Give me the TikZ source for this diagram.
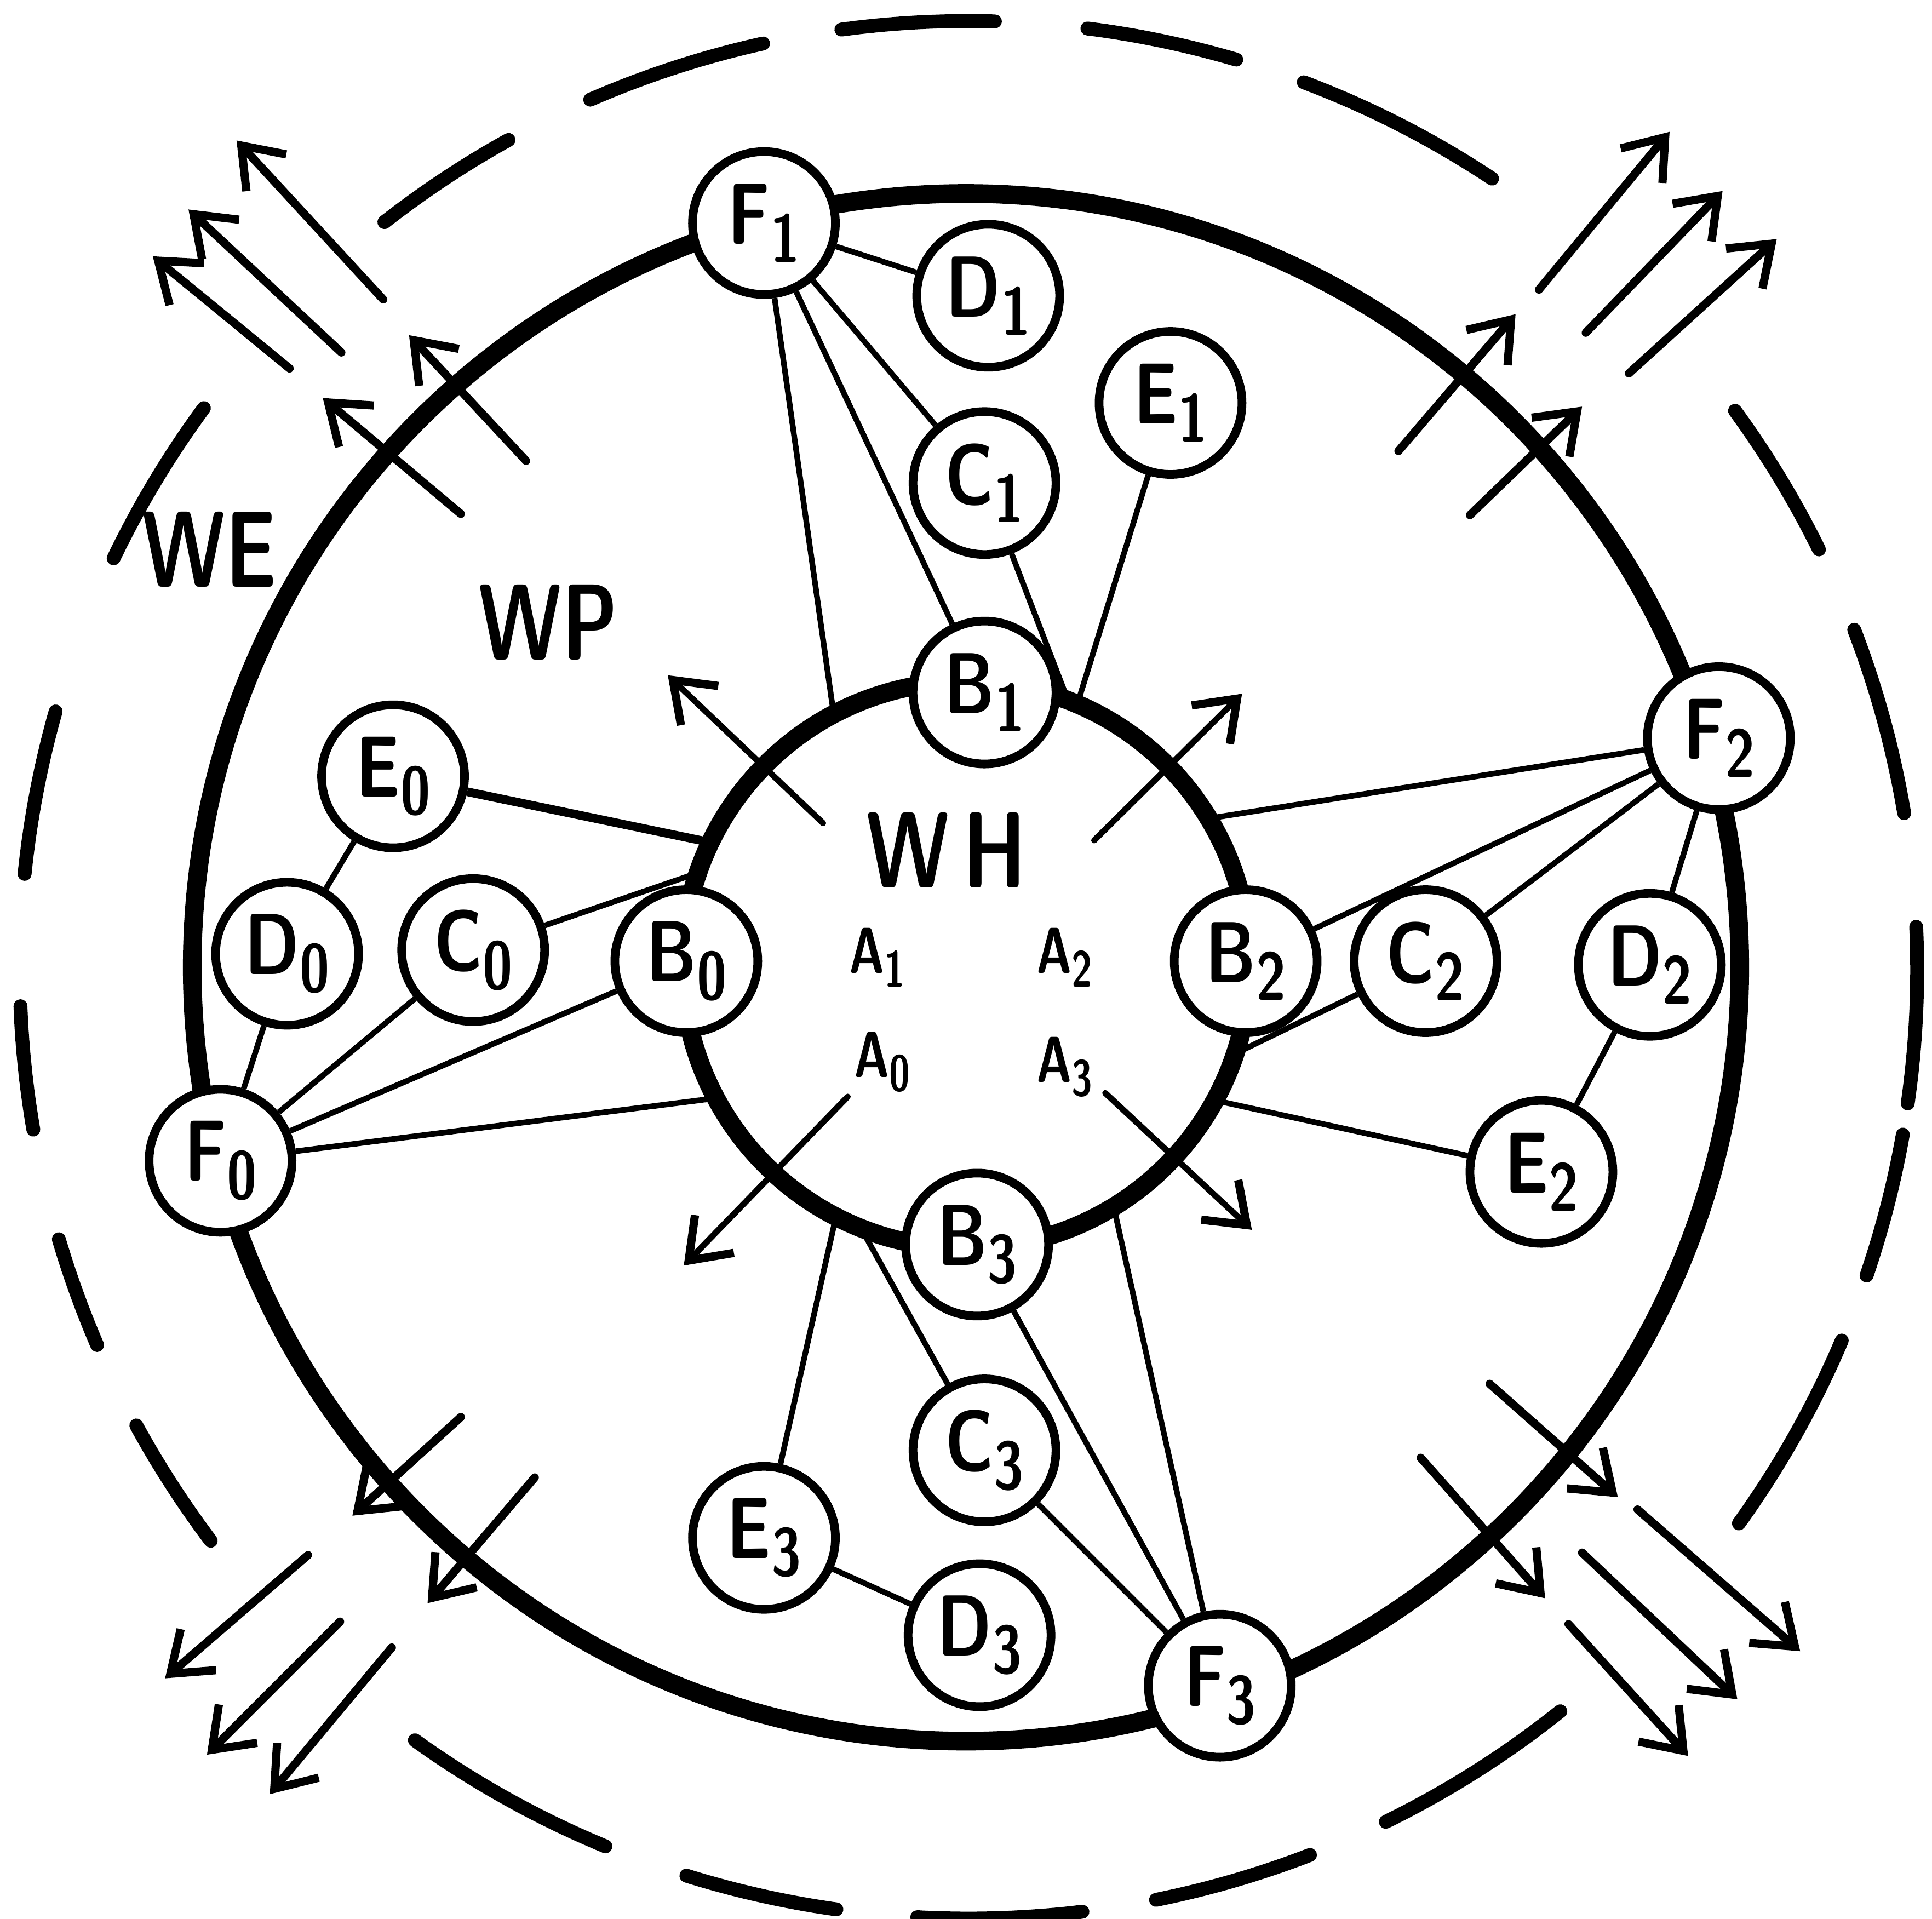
\documentclass[tikz,border=0pt]{standalone}
\usepackage{graphicx}
\usepackage{tikz}
\usetikzlibrary{arrows.meta}
\newcommand{\lowno}[1]{\raisebox{-0.45ex}{\scalebox{0.78}{#1}}}
\newcommand{\stnname}[2]{\scalebox{0.8}[1]{#1\lowno{#2}}}
\newcommand{\narrow}[1]{\scalebox{0.74}[1]{#1}}
\tikzset{
  wall/.style={line width=4.3pt},
  zone/.style={line width=3.2pt,line cap=round},
  stn/.style={circle,draw,fill=white,line width=2pt,minimum size=11.6mm,inner sep=0pt,
    font=\sffamily\bfseries\fontsize{20}{20}\selectfont},
  link/.style={line width=1.3pt},
  flow/.style={line width=1.9pt,line cap=round,
    -{Straight Barb[length=3mm,width=4.4mm,line width=1.9pt]}},
  zonelabel/.style={font=\sffamily\bfseries\fontsize{25}{25}\selectfont},
  alabel/.style={font=\sffamily\bfseries\fontsize{15}{15}\selectfont}
}
\begin{document}
\begin{tikzpicture}[x=0.1mm,y=-0.1mm,line join=round]
  \useasboundingbox (0,0) rectangle (1568,1557);
  \coordinate (E) at (786,787);
  \coordinate (P) at (784,785);
  \coordinate (H) at (784,783);
  % outer ring WE, dashed by hand
  \foreach \a/\b in {119/128, 102.5/113.5, 88.4/97.7, 73.6/82.8, 56.5/69.3,
      26.3/36.1, 9.5/21, -8.1/2.6, -18.8/-10, -35.7/-23, -63.9/-51.4,
      -78.6/-68.9, -93.1/-83.1, -107.3/-98, -125.7/-112.5, -151.3/-143,
      -163.5/-156.7, -177.8/-170.3, 164.2/174.2, 143.7/154.3}
    \draw[zone] (E) ++(\a:77mm) arc[start angle=\a,end angle=\b,radius=77mm];
  \draw[wall] (P) circle[radius=62.8mm];
  \draw[wall] (H) circle[radius=23mm];
  % outgoing arrows
  \foreach \x/\y/\u/\v in {311/243/192/114, 277/286/153/170, 235/299/124/208,
      427/374/332/272, 374/417/262/323,
      1249/235/1355/107, 1287/270/1398/155, 1322/303/1442/194,
      1135/366/1230/255, 1193/418/1284/330,
      374/1150/286/1230, 434/1199/347/1301, 250/1262/134/1362,
      276/1316/168/1424, 318/1337/219/1456,
      1209/1123/1313/1215, 1153/1183/1254/1297, 1329/1225/1461/1340,
      1284/1260/1410/1379, 1273/1318/1370/1425}
    \draw[flow] (\x,\y) -- (\u,\v);
  \foreach \x/\y/\u/\v in {668/668/542/548, 888/682/1008/563,
      688/890/555/1027, 897/887/1016/998}
    \draw[flow,line width=1.4pt] (\x,\y) -- (\u,\v);
  % labels
  \node[zonelabel] (we) at (170,446) {\narrow{WE}};
  \node[zonelabel] (wp) at (445,505) {\narrow{WP}};
  \node[zonelabel] (wh) at (768,690) {\narrow{W\,H}};
  \node[alabel] (a1) at (712,777) {\narrow{A\lowno{1}}};
  \node[alabel] (a2) at (864,777) {\narrow{A\lowno{2}}};
  \node[alabel] (a0) at (716,862) {\narrow{A\lowno{0}}};
  \node[alabel] (a3) at (864,866) {\narrow{A\lowno{3}}};
  % points on WH
  \path (H) ++(117.4:23.5mm) coordinate (h1f);
  \path (H) ++(70:23.5mm) coordinate (h1c);
  \path (H) ++(67:23.5mm) coordinate (h1e);
  \path (H) ++(154.7:23.5mm) coordinate (h0e);
  \path (H) ++(162:23.5mm) coordinate (h0c);
  \path (H) ++(207.6:23.5mm) coordinate (h0f);
  \path (H) ++(30.6:23.5mm) coordinate (h2f);
  \path (H) ++(-17.1:23.5mm) coordinate (h2c);
  \path (H) ++(-28.2:23.5mm) coordinate (h2e);
  \path (H) ++(-117:23.5mm) coordinate (h3e);
  \path (H) ++(-110.3:23.5mm) coordinate (h3c);
  \path (H) ++(-59:23.5mm) coordinate (h3f);
  % stations
  \node[stn] (F1) at (620,181) {\stnname{F}{1}};
  \node[stn] (D1) at (802,240) {\stnname{D}{1}};
  \node[stn] (E1) at (950,327) {\stnname{E}{1}};
  \node[stn] (C1) at (799,392) {\stnname{C}{1}};
  \node[stn] (B1) at (799,562) {\stnname{B}{1}};
  \node[stn] (F2) at (1395,599) {\stnname{F}{2}};
  \node[stn] (B2) at (1011,780) {\stnname{B}{2}};
  \node[stn] (C2) at (1157,780) {\stnname{C}{2}};
  \node[stn] (D2) at (1339,783) {\stnname{D}{2}};
  \node[stn] (E2) at (1251,951) {\stnname{E}{2}};
  \node[stn] (B3) at (793,1010) {\stnname{B}{3}};
  \node[stn] (C3) at (799,1177) {\stnname{C}{3}};
  \node[stn] (E3) at (620,1248) {\stnname{E}{3}};
  \node[stn] (D3) at (795,1327) {\stnname{D}{3}};
  \node[stn] (F3) at (990,1368) {\stnname{F}{3}};
  \node[stn] (E0) at (319,630) {\stnname{E}{0}};
  \node[stn] (D0) at (233,774) {\stnname{D}{0}};
  \node[stn] (C0) at (384,771) {\stnname{C}{0}};
  \node[stn] (B0) at (557,780) {\stnname{B}{0}};
  \node[stn] (F0) at (179,942) {\stnname{F}{0}};
  % links
  \draw[link] (F1) -- (D1);
  \draw[link] (F1) -- (C1);
  \draw[link] (F1) -- (B1);
  \draw[link] (F1) -- (h1f);
  \draw[link] (C1) -- (h1c);
  \draw[link] (E1) -- (h1e);
  \draw[link] (F0) -- (D0);
  \draw[link] (D0) -- (E0);
  \draw[link] (F0) -- (C0);
  \draw[link] (F0) -- (B0);
  \draw[link] (F0) -- (h0f);
  \draw[link,line width=2pt] (E0) -- (h0e);
  \draw[link] (C0) -- (h0c);
  \draw[link] (F2) -- (h2f);
  \draw[link] (F2) -- (B2);
  \draw[link] (F2) -- (C2);
  \draw[link] (F2) -- (D2);
  \draw[link] (D2) -- (E2);
  \draw[link] (C2) -- (h2c);
  \draw[link] (E2) -- (h2e);
  \draw[link] (E3) -- (h3e);
  \draw[link] (C3) -- (h3c);
  \draw[link] (B3) -- (F3);
  \draw[link] (F3) -- (h3f);
  \draw[link] (F3) -- (C3);
  \draw[link] (E3) -- (D3);
\end{tikzpicture}
\end{document}
